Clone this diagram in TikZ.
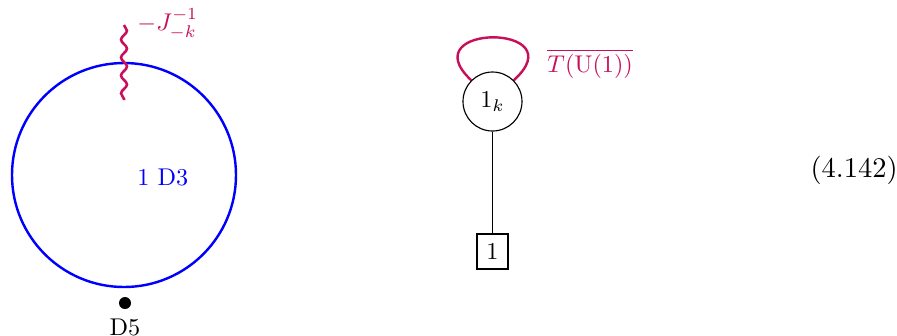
\documentclass[tikz,border=0pt]{standalone}
\usetikzlibrary{decorations.pathmorphing}
\definecolor{crim}{RGB}{200,16,90}
\begin{document}
\begin{tikzpicture}[x=0.351pt,y=-0.351pt,
  lbl/.style={scale=0.85,inner sep=0pt},
  bluecirc/.style={draw=blue,line width=0.85pt},
  wavy/.style={draw=crim,line width=0.9pt,decorate,decoration={snake,amplitude=1.05pt,segment length=6.3pt}},
  gauge/.style={draw,circle,minimum size=59*0.351pt,inner sep=0pt},
  flavour/.style={draw,rectangle,minimum width=31*0.351pt,minimum height=35*0.351pt,inner sep=0pt},
  loopline/.style={draw=crim,line width=0.85pt}]
\useasboundingbox (0,0) rectangle (897,335);
% left
\draw[bluecirc] (124,175) circle[radius=112*0.351pt];
\node[lbl,text=blue,anchor=base west] (d3) at (137,185) {1 D3};
\coordinate (wtop) at (124,25);
\coordinate (wbot) at (124,100);
\draw[wavy] (wtop) -- (wbot);
\node[lbl,text=crim,anchor=base west] (jlab) at (137,30) {$-J^{-1}_{-k}$};
\fill (125,303) circle[radius=6*0.351pt];
\node[lbl,anchor=base] (d5) at (125,335) {D5};
% right
\node[gauge] (g) at (492.5,101.5) {\scalebox{0.85}{$1_k$}};
\node[flavour] (f) at (492.5,251.5) {\scalebox{0.85}{1}};
\draw (g) -- (f);
\draw[loopline] (g.135) .. controls (410,23) and (577,23) .. (g.45);
\node[lbl,text=crim,anchor=base west] (tlab) at (547,72) {$\overline{T(\mathrm{U}(1))}$};
\node[inner sep=0pt,anchor=base west] (eq) at (810,177) {(4.142)};
\end{tikzpicture}
\end{document}
